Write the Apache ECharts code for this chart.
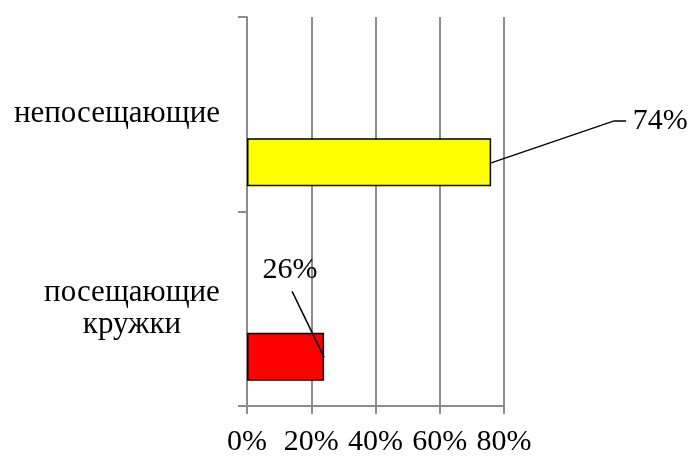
<!DOCTYPE html>
<html>
<head>
<meta charset="utf-8">
<script src="https://cdn.jsdelivr.net/npm/echarts@6/dist/echarts.min.js"></script>
<style>html,body{margin:0;padding:0;background:#fff;}#c{width:692px;height:457px;}</style>
</head>
<body>
<div id="c"></div>
<script>
// Data
const categories = ['посещающие\nкружки', 'непосещающие'];
const barValues = [24, 76];
const labelTexts = ['26%', '74%'];
const barColors = ['#FF0000', '#FFFF00'];
const xTicks = [0, 20, 40, 60, 80];

const FONT = '"Liberation Serif", "Times New Roman", serif';
const CAT_SIZE = 31;
const TICK_SIZE = 30;

// width of the longest line of the multi-line category label (for centred lines)
const mctx = document.createElement('canvas').getContext('2d');
mctx.font = CAT_SIZE + 'px "Liberation Serif"';
const multiW = Math.ceil(Math.max(...categories.filter(c => c.includes('\n'))
  .flatMap(c => c.split('\n')).map(s => mctx.measureText(s).width)));

const chart = echarts.init(document.getElementById('c'));

// label placement relative to bar end (style only)
const labelStyle = [
  { line: [[0, 0], [-32, -66]], text: [-34, -87] },
  { line: [[0, 0], [123, -42], [135, -42]], text: [169, -42] }
];

chart.setOption({
  animation: false,
  grid: { left: 247, right: 188, top: 17, bottom: 47, containLabel: false },
  xAxis: {
    type: 'value', min: xTicks[0], max: xTicks[xTicks.length - 1], interval: 20,
    axisLine: { show: true, lineStyle: { color: '#8c8c8c', width: 2 } },
    axisTick: { show: true, length: 8, lineStyle: { color: '#8c8c8c', width: 2 } },
    splitLine: { show: true, lineStyle: { color: '#8c8c8c', width: 2 } },
    axisLabel: { formatter: v => v + '%', fontFamily: FONT, fontSize: TICK_SIZE, color: '#000', margin: 21 }
  },
  yAxis: {
    type: 'category', data: categories,
    axisLine: { show: true, lineStyle: { color: '#8c8c8c', width: 2 } },
    axisTick: { show: true, length: 9, lineStyle: { color: '#8c8c8c', width: 2 } },
    axisLabel: {
      fontFamily: FONT, fontSize: CAT_SIZE, color: '#000', margin: 27, align: 'right', lineHeight: 32,
      formatter: v => v.includes('\n') ? v.split('\n').map(s => '{c|' + s + '}').join('\n') : v,
      rich: { c: { width: multiW, align: 'center', fontFamily: FONT, fontSize: CAT_SIZE, color: '#000', lineHeight: 32 } }
    },
    splitLine: { show: false }
  },
  series: [
    { type: 'bar', data: ['-', '-'], barWidth: 48, barGap: '100%' },
    {
      type: 'bar', barWidth: 48, barGap: '100%',
      data: barValues.map((v, i) => ({ value: v, itemStyle: { color: barColors[i] } })),
      itemStyle: { borderColor: '#000', borderWidth: 1.5 }
    },
    {
      type: 'custom', z: 10,
      data: barValues.map((v, i) => [v, i]),
      renderItem: function (params, api) {
        const i = params.dataIndex;
        const p = api.coord([api.value(0), api.value(1)]);
        const band = api.size([0, 1])[1];
        const cy = p[1] + band * 0.25;
        const s = labelStyle[i];
        return {
          type: 'group',
          children: [
            { type: 'polyline', shape: { points: s.line.map(q => [p[0] + q[0], cy + q[1]]) },
              style: { stroke: '#000', lineWidth: 1.5, fill: null } },
            { type: 'text', x: p[0] + s.text[0], y: cy + s.text[1],
              style: { text: labelTexts[i], fontFamily: FONT, fontSize: TICK_SIZE, fill: '#000', align: 'center', verticalAlign: 'middle' } }
          ]
        };
      }
    }
  ]
});
</script>
</body>
</html>
